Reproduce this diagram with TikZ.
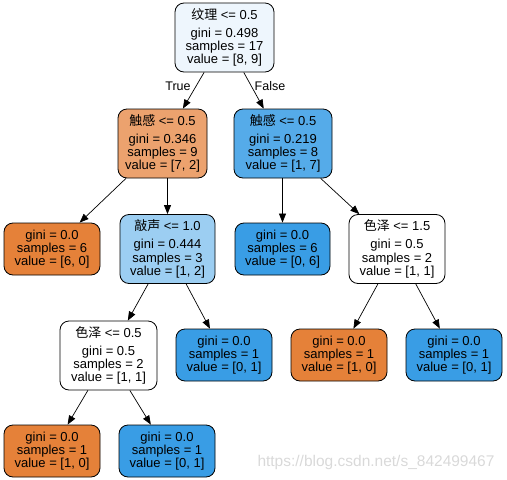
\documentclass[tikz,border=0pt]{standalone}
\usepackage{fontspec}
\setmainfont{Liberation Sans}
\newfontfamily\cjk{Noto Sans CJK SC}
\usetikzlibrary{arrows.meta}
\definecolor{orangeleaf}{HTML}{E58139}
\definecolor{blueleaf}{HTML}{399DE5}
\definecolor{rootcol}{HTML}{EEF6FD}
\definecolor{touchL}{HTML}{ECA26E}
\definecolor{touchR}{HTML}{55ABE9}
\definecolor{knockcol}{HTML}{9CCEF2}
\definecolor{wmark}{HTML}{D9D9D9}
\tikzset{
  tree/.style={draw=black, line width=0.8pt, rounded corners=9pt, inner sep=0pt, align=center,
    font=\fontsize{13}{13.3}\selectfont},
  split/.style={tree, minimum width=97pt, minimum height=69pt},
  leaf/.style={tree, minimum width=96pt, minimum height=52pt},
  edge/.style={draw=black, line width=0.7pt, -{Triangle[length=9pt,width=7pt]}},
  elabel/.style={font=\fontsize{12.5}{13.3}\selectfont}
}
\begin{document}
\begin{tikzpicture}[x=1pt,y=-1pt]
\useasboundingbox (0,0) rectangle (507,480);
\node[split, fill=rootcol, minimum width=99pt] (root) at (224.5,37.5)
  {{\cjk 纹理} <= 0.5\\[4.7pt]gini = 0.498\\samples = 17\\value = [8, 9]};
\node[split, fill=touchL, minimum width=89pt] (tl) at (162.5,143.5)
  {{\cjk 触感} <= 0.5\\[4.7pt]gini = 0.346\\samples = 9\\value = [7, 2]};
\node[split, fill=touchR, minimum width=98pt] (tr) at (283,143.5)
  {{\cjk 触感} <= 0.5\\[4.7pt]gini = 0.219\\samples = 8\\value = [1, 7]};
\node[leaf, fill=orangeleaf] (l1) at (52,249)
  {gini = 0.0\\samples = 6\\value = [6, 0]};
\node[split, fill=knockcol, minimum width=95pt] (kn) at (167.5,249)
  {{\cjk 敲声} <= 1.0\\[4.7pt]gini = 0.444\\samples = 3\\value = [1, 2]};
\node[leaf, fill=blueleaf, minimum width=95pt] (l2) at (282.5,249)
  {gini = 0.0\\samples = 6\\value = [0, 6]};
\node[split, fill=white, minimum width=96pt] (se1) at (397,249)
  {{\cjk 色泽} <= 1.5\\[4.7pt]gini = 0.5\\samples = 2\\value = [1, 1]};
\node[split, fill=white] (se2) at (108.5,355.5)
  {{\cjk 色泽} <= 0.5\\[4.7pt]gini = 0.5\\samples = 2\\value = [1, 1]};
\node[leaf, fill=blueleaf] (l3) at (224,355)
  {gini = 0.0\\samples = 1\\value = [0, 1]};
\node[leaf, fill=orangeleaf] (l4) at (339,355)
  {gini = 0.0\\samples = 1\\value = [1, 0]};
\node[leaf, fill=blueleaf] (l5) at (454,355)
  {gini = 0.0\\samples = 1\\value = [0, 1]};
\node[leaf, fill=orangeleaf] (l6) at (52,451)
  {gini = 0.0\\samples = 1\\value = [1, 0]};
\node[leaf, fill=blueleaf] (l7) at (167,451)
  {gini = 0.0\\samples = 1\\value = [0, 1]};
\draw[edge] (root) -- (tl);
\draw[edge] (root) -- (tr);
\draw[edge] (tl) -- (l1);
\draw[edge] (kn.north |- tl.south) -- (kn.north);
\draw[edge] (tr.south -| l2.north) -- (l2.north);
\draw[edge] (tr) -- (se1);
\draw[edge] (kn) -- (se2);
\draw[edge] (kn) -- (l3);
\draw[edge] (se1) -- (l4);
\draw[edge] (se1) -- (l5);
\draw[edge] (se2) -- (l6);
\draw[edge] (se2) -- (l7);
\node[elabel] (tlab) at (178,86) {True};
\node[elabel] (flab) at (270,86) {False};
\node[text=wmark, font=\fontsize{15.5}{16}\selectfont] (wm) at (376,462) {https://blog.csdn.net/s\_842499467};
\end{tikzpicture}
\end{document}
